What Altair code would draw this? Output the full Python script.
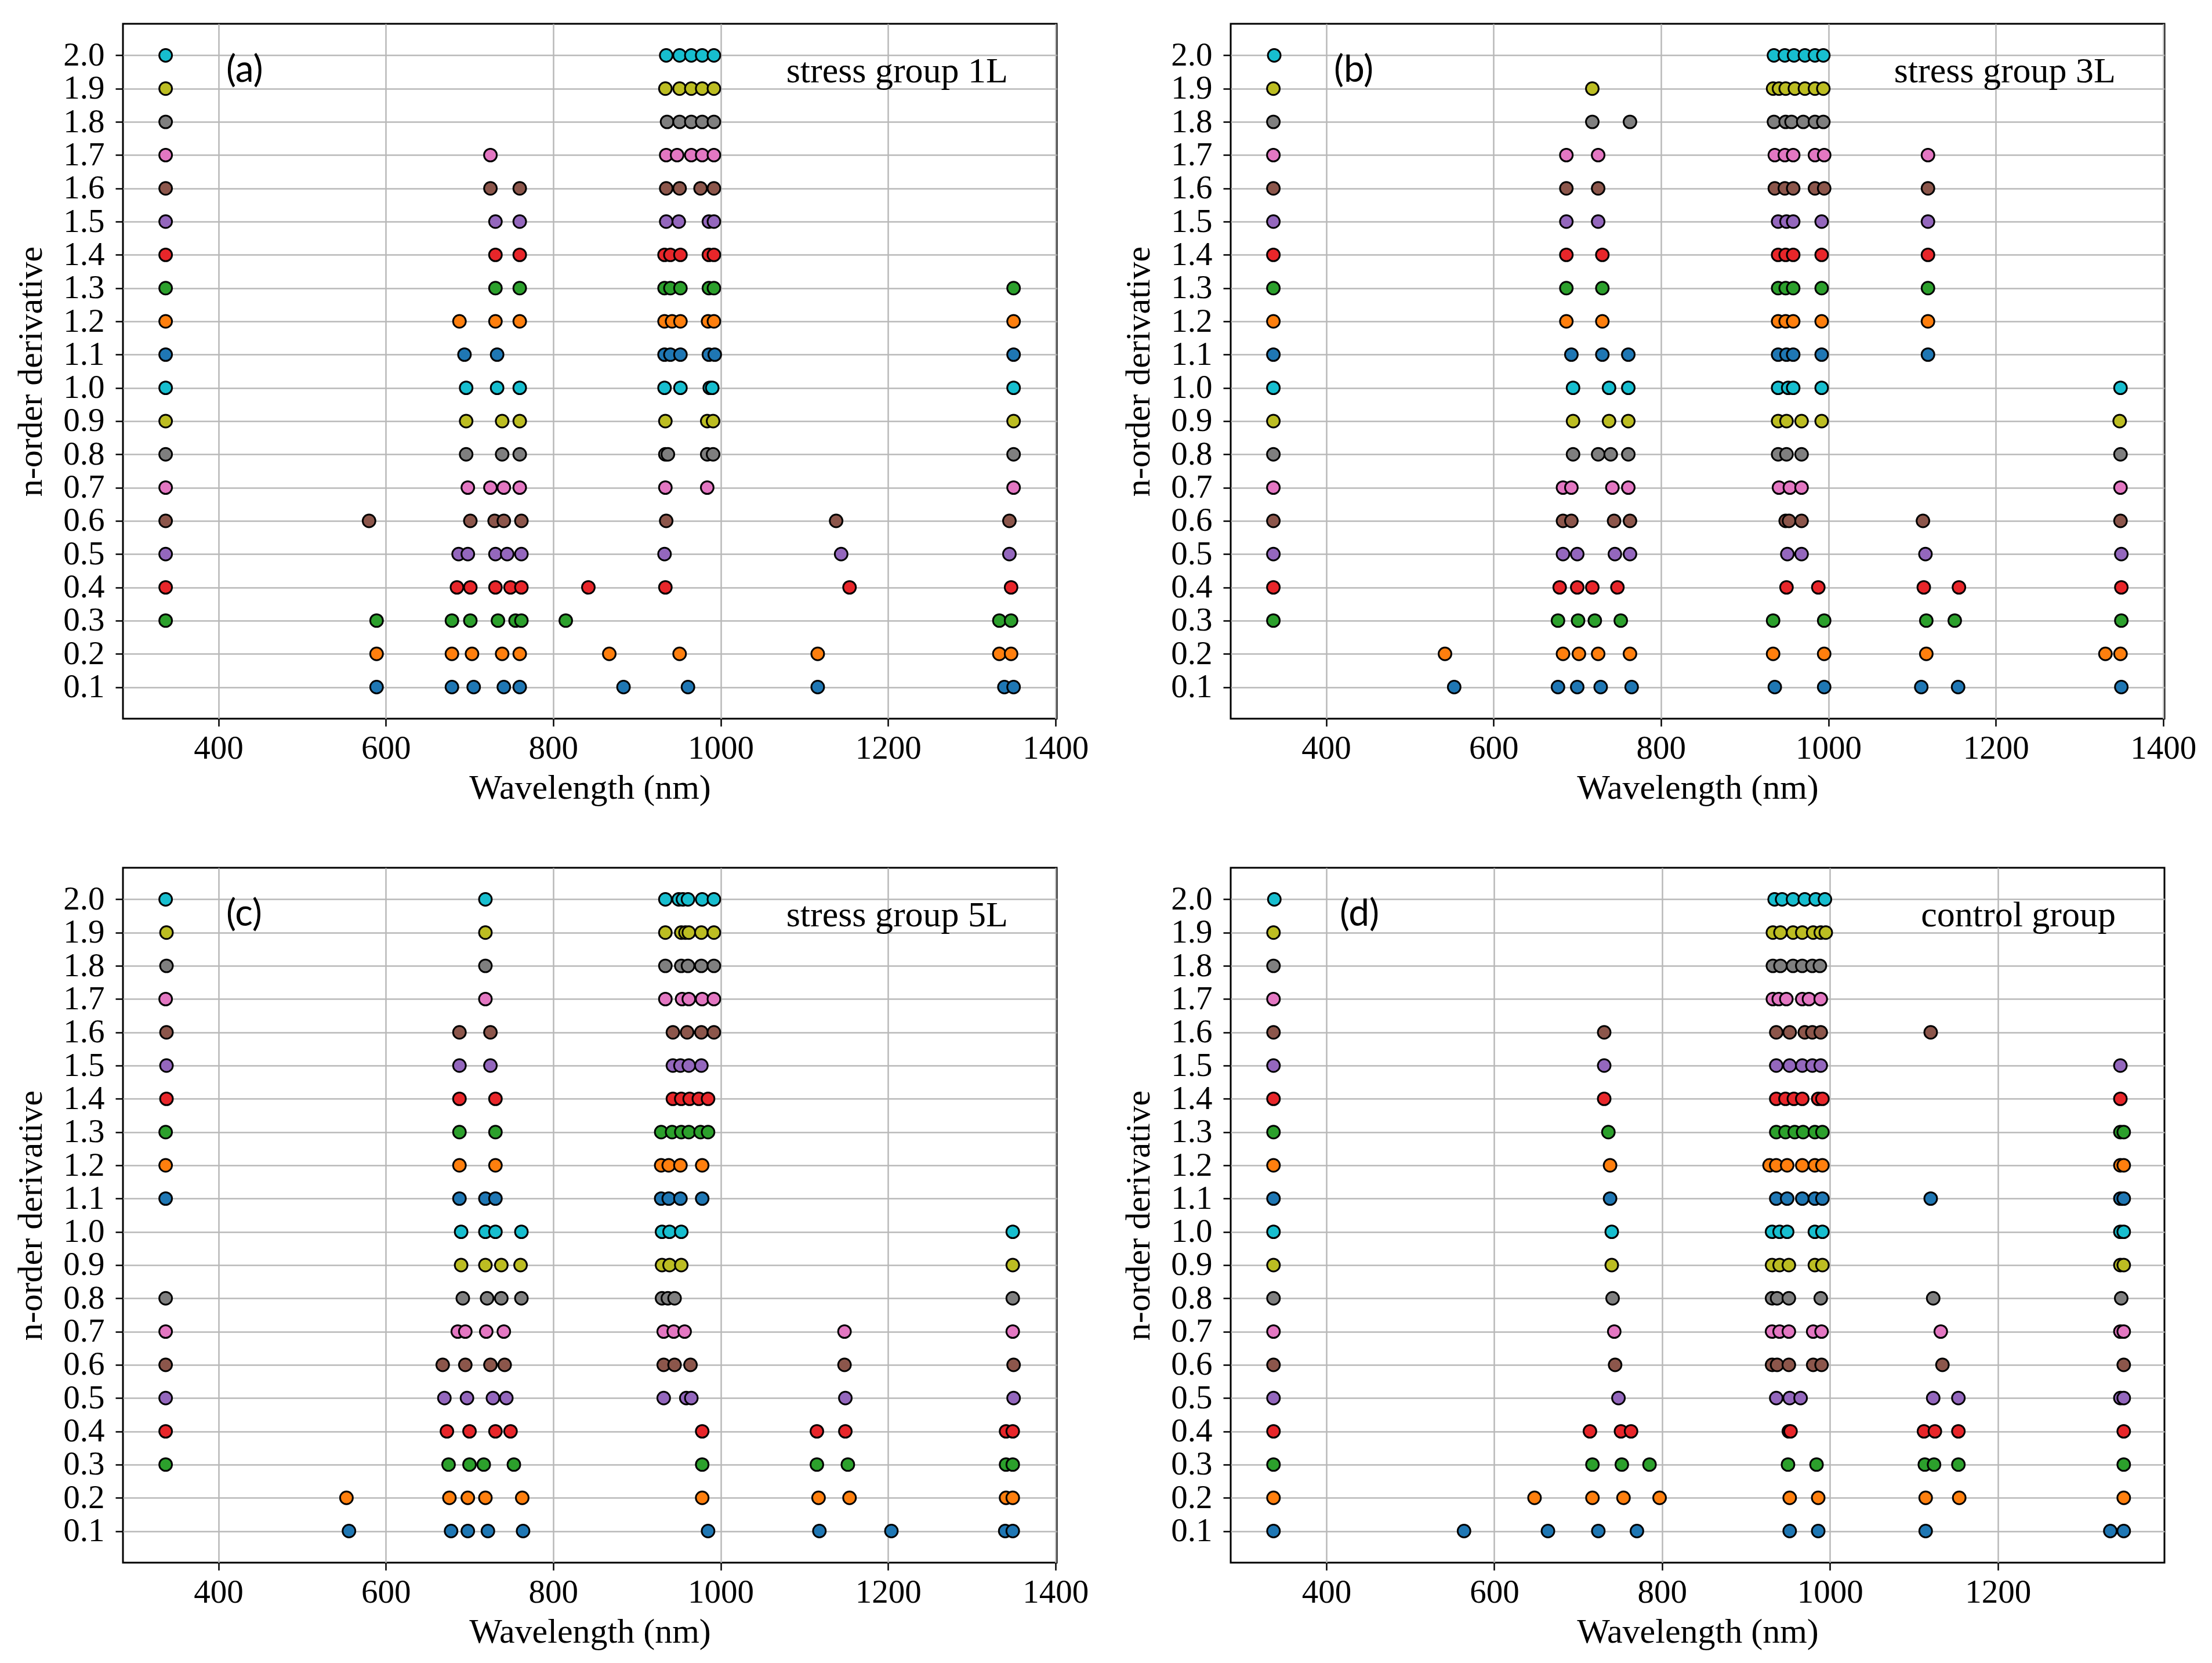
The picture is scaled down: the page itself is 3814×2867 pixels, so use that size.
import altair as alt
import pandas as pd

# n-order derivative levels and their tab10 colours (cycle of 10)
orders = [0.1, 0.2, 0.3, 0.4, 0.5, 0.6, 0.7, 0.8, 0.9, 1.0,
          1.1, 1.2, 1.3, 1.4, 1.5, 1.6, 1.7, 1.8, 1.9, 2.0]
tab10 = ['#1f77b4', '#ff7f0e', '#2ca02c', '#e8262a', '#9467bd',
         '#8c564b', '#e377c2', '#7f7f7f', '#bcbd22', '#17becf']

x_ticks_full = [400, 600, 800, 1000, 1200, 1400]
x_ticks_short = [400, 600, 800, 1000, 1200]

# selected wavelengths (nm) per derivative order
stress_1L = {
    2.0: [337, 935, 951, 965, 978, 992],
    1.9: [337, 934, 951, 965, 978, 992],
    1.8: [337, 936, 951, 965, 978, 992],
    1.7: [337, 725, 935, 948, 965, 978, 992],
    1.6: [337, 725, 760, 935, 951, 976, 992],
    1.5: [337, 731, 760, 935, 950, 986, 992],
    1.4: [337, 731, 760, 933, 940, 952, 986, 992],
    1.3: [337, 731, 760, 933, 940, 952, 986, 992, 1350],
    1.2: [337, 688, 731, 760, 933, 942, 952, 985, 992, 1350],
    1.1: [337, 694, 733, 933, 940, 952, 986, 993, 1350],
    1.0: [337, 696, 733, 760, 933, 952, 987, 990, 1350],
    0.9: [337, 696, 739, 760, 934, 984, 991, 1350],
    0.8: [337, 696, 739, 760, 934, 937, 984, 991, 1350],
    0.7: [337, 698, 725, 741, 760, 934, 984, 1350],
    0.6: [337, 580, 701, 730, 741, 762, 935, 1138, 1345],
    0.5: [337, 687, 698, 731, 745, 762, 933, 1144, 1345],
    0.4: [337, 685, 701, 731, 749, 762, 842, 934, 1154, 1347],
    0.3: [337, 589, 679, 701, 734, 755, 762, 815, 1333, 1347],
    0.2: [589, 679, 703, 739, 760, 867, 951, 1116, 1333, 1347],
    0.1: [589, 679, 705, 741, 760, 884, 961, 1116, 1339, 1350],
}

stress_3L = {
    2.0: [338, 935, 948, 959, 972, 984, 994],
    1.9: [337, 718, 934, 941, 949, 960, 972, 984, 994],
    1.8: [337, 718, 763, 935, 949, 956, 970, 984, 994],
    1.7: [337, 687, 725, 936, 948, 958, 984, 995, 1119],
    1.6: [337, 687, 725, 936, 948, 958, 984, 995, 1119],
    1.5: [337, 687, 725, 940, 950, 958, 992, 1119],
    1.4: [337, 687, 730, 940, 949, 958, 992, 1119],
    1.3: [337, 687, 730, 940, 949, 958, 992, 1119],
    1.2: [337, 687, 730, 940, 949, 958, 992, 1119],
    1.1: [337, 693, 730, 761, 940, 950, 958, 992, 1119],
    1.0: [337, 695, 738, 761, 940, 952, 958, 992, 1349],
    0.9: [337, 695, 738, 761, 940, 950, 968, 992, 1348],
    0.8: [337, 695, 725, 740, 761, 940, 950, 968, 1349],
    0.7: [337, 683, 693, 742, 761, 941, 954, 968, 1349],
    0.6: [337, 683, 693, 744, 763, 949, 953, 968, 1113, 1349],
    0.5: [337, 683, 700, 745, 763, 951, 968, 1116, 1350],
    0.4: [337, 679, 700, 718, 748, 950, 988, 1114, 1156, 1350],
    0.3: [337, 677, 701, 721, 752, 934, 995, 1117, 1151, 1350],
    0.2: [542, 683, 702, 725, 763, 934, 995, 1117, 1331, 1349],
    0.1: [553, 677, 700, 728, 765, 936, 995, 1111, 1155, 1350],
}

stress_5L = {
    2.0: [337, 719, 934, 950, 955, 961, 978, 992],
    1.9: [338, 719, 934, 953, 958, 962, 977, 992],
    1.8: [338, 719, 934, 953, 961, 977, 992],
    1.7: [337, 719, 934, 954, 962, 978, 992],
    1.6: [338, 688, 725, 943, 960, 977, 992],
    1.5: [338, 688, 725, 943, 952, 962, 977],
    1.4: [338, 688, 731, 943, 953, 963, 974, 985],
    1.3: [337, 688, 731, 929, 942, 953, 962, 976, 985],
    1.2: [337, 688, 731, 929, 938, 952, 978],
    1.1: [337, 688, 719, 731, 929, 938, 952, 978],
    1.0: [690, 719, 731, 762, 930, 939, 953, 1349],
    0.9: [690, 719, 738, 761, 930, 939, 953, 1349],
    0.8: [337, 692, 721, 738, 762, 930, 937, 945, 1349],
    0.7: [337, 686, 695, 720, 741, 932, 944, 957, 1148, 1349],
    0.6: [337, 668, 695, 725, 742, 932, 945, 964, 1148, 1350],
    0.5: [337, 670, 697, 728, 744, 932, 959, 965, 1149, 1350],
    0.4: [337, 673, 700, 731, 749, 978, 1115, 1149, 1341, 1349],
    0.3: [337, 675, 700, 717, 753, 978, 1115, 1152, 1341, 1349],
    0.2: [553, 676, 698, 719, 763, 978, 1117, 1154, 1341, 1349],
    0.1: [556, 678, 698, 722, 764, 985, 1118, 1204, 1340, 1349],
}

control = {
    2.0: [338, 934, 943, 956, 970, 983, 994],
    1.9: [337, 932, 941, 956, 967, 980, 989, 995],
    1.8: [337, 932, 941, 956, 967, 979, 988],
    1.7: [337, 932, 939, 948, 967, 975, 989],
    1.6: [337, 731, 936, 952, 970, 979, 989, 1120],
    1.5: [337, 731, 936, 952, 967, 979, 989, 1346],
    1.4: [337, 731, 936, 947, 957, 967, 986, 991, 1346],
    1.3: [337, 736, 936, 947, 958, 968, 982, 991, 1346, 1350],
    1.2: [337, 738, 928, 936, 949, 967, 982, 991, 1346, 1350],
    1.1: [337, 738, 936, 949, 967, 982, 991, 1120, 1346, 1350],
    1.0: [337, 740, 931, 940, 949, 982, 991, 1346, 1350],
    0.9: [337, 740, 931, 940, 951, 982, 991, 1346, 1350],
    0.8: [337, 741, 931, 937, 951, 989, 1123, 1347],
    0.7: [337, 743, 931, 940, 951, 980, 990, 1132, 1346, 1350],
    0.6: [337, 744, 931, 937, 951, 980, 990, 1134, 1350],
    0.5: [337, 748, 936, 952, 965, 1123, 1153, 1346, 1350],
    0.4: [337, 714, 751, 763, 951, 953, 1112, 1125, 1153, 1350],
    0.3: [337, 717, 752, 785, 950, 984, 1113, 1124, 1153, 1350],
    0.2: [337, 648, 717, 754, 797, 952, 986, 1114, 1154, 1350],
    0.1: [337, 564, 664, 724, 770, 952, 986, 1114, 1334, 1350],
}

SERIF = 'Liberation Serif'
W, H = 1610, 1198


def painel(dados, letra, grupo, x_ticks, x_max, letra_x=178):
    linhas = []
    for ordem, comprimentos in dados.items():
        idx = orders.index(ordem)
        for w in comprimentos:
            linhas.append({'wavelength': w, 'order': ordem, 'cor': str(idx % 10)})
    df = pd.DataFrame(linhas)

    pontos = alt.Chart(df).mark_circle(
        size=480, opacity=1, stroke='black', strokeWidth=3
    ).encode(
        x=alt.X('wavelength:Q', title='Wavelength (nm)',
                scale=alt.Scale(domain=[286, x_max], nice=False, zero=False),
                axis=alt.Axis(values=x_ticks, format='d', labelPadding=10,
                              titlePadding=11)),
        y=alt.Y('order:Q', title='n-order derivative',
                scale=alt.Scale(domain=[0.005, 2.095], nice=False, zero=False),
                axis=alt.Axis(values=orders, format='.1f', labelPadding=19,
                              titlePadding=24)),
        color=alt.Color('cor:N', legend=None,
                        scale=alt.Scale(domain=[str(i) for i in range(10)],
                                        range=tab10)),
    )

    rotulo = alt.Chart(pd.DataFrame({'t': [letra]})).mark_text(
        font='Lato', fontSize=64, align='left', baseline='middle', color='black'
    ).encode(text='t:N', x=alt.value(letra_x), y=alt.value(81))

    nome = alt.Chart(pd.DataFrame({'t': [grupo]})).mark_text(
        font=SERIF, fontSize=62, align='right', baseline='middle', color='black'
    ).encode(text='t:N', x=alt.value(1526), y=alt.value(82))

    return alt.layer(pontos, rotulo, nome).properties(width=W, height=H)


a = painel(stress_1L, '(a)', 'stress group 1L', x_ticks_full, 1401.5)
b = painel(stress_3L, '(b)', 'stress group 3L', x_ticks_full, 1401.5)
c = painel(stress_5L, '(c)', 'stress group 5L', x_ticks_full, 1401.5)
d = painel(control, '(d)', 'control group', x_ticks_short, 1398.5, letra_x=188)

chart = alt.vconcat(
    alt.hconcat(a, b, spacing=53),
    alt.hconcat(c, d, spacing=53),
    spacing=104,
).properties(
    padding={'left': 14, 'top': 31, 'right': 5, 'bottom': 5},
    background='white',
).configure_axis(
    labelFont=SERIF, labelFontSize=57, labelColor='black',
    titleFont=SERIF, titleFontSize=60, titleFontWeight='normal', titleColor='black',
    grid=True, gridColor='#b8b8b8', gridWidth=2.5,
    tickColor='black', tickWidth=2.5, tickSize=13, domain=False,
).configure_view(stroke='black', strokeWidth=3)

chart.save('out.html', embed_options={'renderer': 'svg', 'actions': False})
